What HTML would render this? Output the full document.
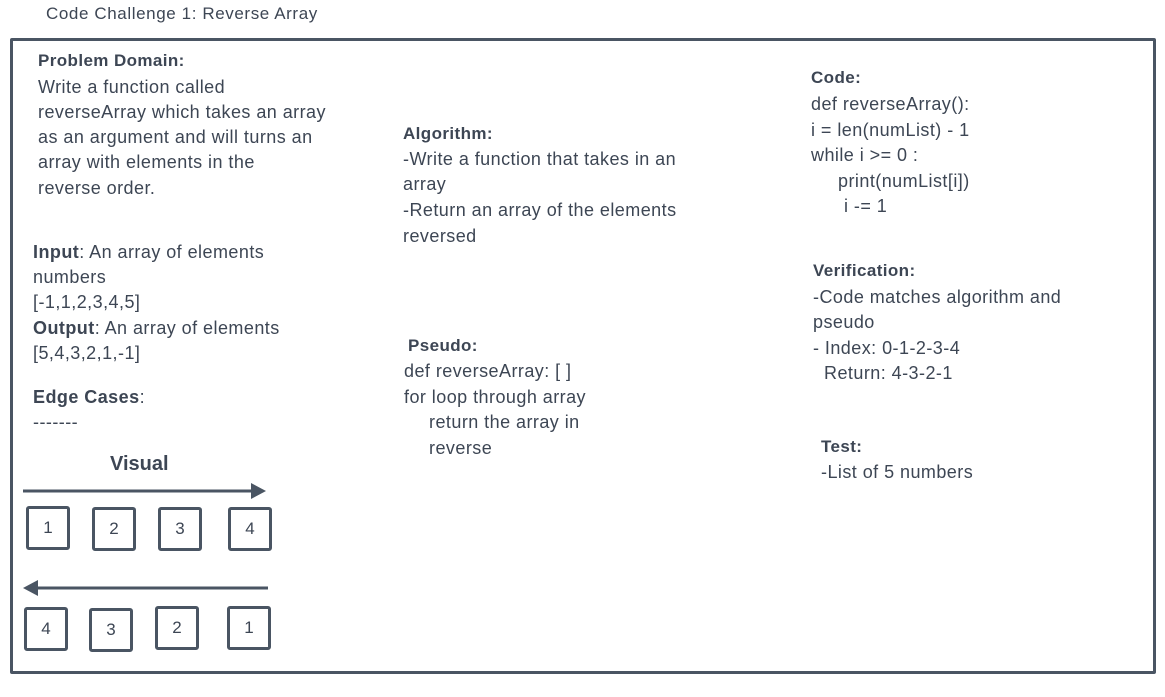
<!DOCTYPE html>
<html><head><meta charset="utf-8"><style>
body{margin:0;width:1165px;height:697px;background:#fff;position:relative;overflow:hidden;font-family:"Liberation Sans",sans-serif;color:#3d4654}
.t{position:absolute;font-size:18px;line-height:20px;white-space:nowrap;letter-spacing:0.45px}
.b{font-weight:bold;font-size:17px;letter-spacing:0.4px}
#frame{position:absolute;left:10px;top:38px;width:1140px;height:630px;border:3px solid #4a5563;border-radius:2px}
.box{position:absolute;width:38px;height:38px;border:3px solid #4a5563;border-radius:3px;font-size:17px;text-align:center;line-height:38px}
</style></head><body>
<div class="t" style="left:46px;top:4px;font-size:17px;letter-spacing:0.6px">Code Challenge 1: Reverse Array</div>
<div id="frame"></div>

<div class="t b" style="left:38px;top:51px">Problem Domain:</div>
<div class="t" style="left:38px;top:77px">Write a function called</div>
<div class="t" style="left:38px;top:102px">reverseArray which takes an array</div>
<div class="t" style="left:38px;top:127px">as an argument and will turns an</div>
<div class="t" style="left:38px;top:152px">array with elements in the</div>
<div class="t" style="left:38px;top:178px">reverse order.</div>

<div class="t" style="left:33px;top:242px"><b>Input</b>: An array of elements</div>
<div class="t" style="left:33px;top:267px">numbers</div>
<div class="t" style="left:33px;top:292px">[-1,1,2,3,4,5]</div>
<div class="t" style="left:33px;top:318px"><b>Output</b>: An array of elements</div>
<div class="t" style="left:33px;top:343px">[5,4,3,2,1,-1]</div>
<div class="t" style="left:33px;top:387px"><b>Edge Cases</b>:</div>
<div class="t" style="left:33px;top:412px">-------</div>

<div class="t" style="left:110px;top:453px;font-size:20px;line-height:22px;font-weight:bold;letter-spacing:0">Visual</div>
<svg style="position:absolute;left:0;top:0" width="1165" height="697">
<line x1="23" y1="491" x2="252" y2="491" stroke="#4a5563" stroke-width="3"/>
<polygon points="251,483 266,491 251,499" fill="#4a5563"/>
<line x1="37" y1="588" x2="268" y2="588" stroke="#4a5563" stroke-width="3"/>
<polygon points="38,580 23,588 38,596" fill="#4a5563"/>
</svg>
<div class="box" style="left:26px;top:506px">1</div>
<div class="box" style="left:92px;top:507px">2</div>
<div class="box" style="left:158px;top:507px">3</div>
<div class="box" style="left:228px;top:507px">4</div>
<div class="box" style="left:24px;top:607px">4</div>
<div class="box" style="left:89px;top:608px">3</div>
<div class="box" style="left:155px;top:606px">2</div>
<div class="box" style="left:227px;top:606px">1</div>

<div class="t b" style="left:403px;top:124px">Algorithm:</div>
<div class="t" style="left:403px;top:149px">-Write a function that takes in an</div>
<div class="t" style="left:403px;top:174px">array</div>
<div class="t" style="left:403px;top:200px">-Return an array of the elements</div>
<div class="t" style="left:403px;top:226px">reversed</div>

<div class="t b" style="left:408px;top:336px">Pseudo:</div>
<div class="t" style="left:404px;top:361px">def reverseArray: [ ]</div>
<div class="t" style="left:404px;top:387px">for loop through array</div>
<div class="t" style="left:429px;top:412px">return the array in</div>
<div class="t" style="left:429px;top:438px">reverse</div>

<div class="t b" style="left:811px;top:68px">Code:</div>
<div class="t" style="left:811px;top:94px">def reverseArray():</div>
<div class="t" style="left:811px;top:120px">i = len(numList) - 1</div>
<div class="t" style="left:811px;top:145px">while i &gt;= 0 :</div>
<div class="t" style="left:838px;top:171px">print(numList[i])</div>
<div class="t" style="left:844px;top:196px">i -= 1</div>

<div class="t b" style="left:813px;top:261px">Verification:</div>
<div class="t" style="left:813px;top:287px">-Code matches algorithm and</div>
<div class="t" style="left:813px;top:312px">pseudo</div>
<div class="t" style="left:813px;top:338px">- Index: 0-1-2-3-4</div>
<div class="t" style="left:824px;top:363px">Return: 4-3-2-1</div>

<div class="t b" style="left:821px;top:437px">Test:</div>
<div class="t" style="left:821px;top:462px">-List of 5 numbers</div>
</body></html>
